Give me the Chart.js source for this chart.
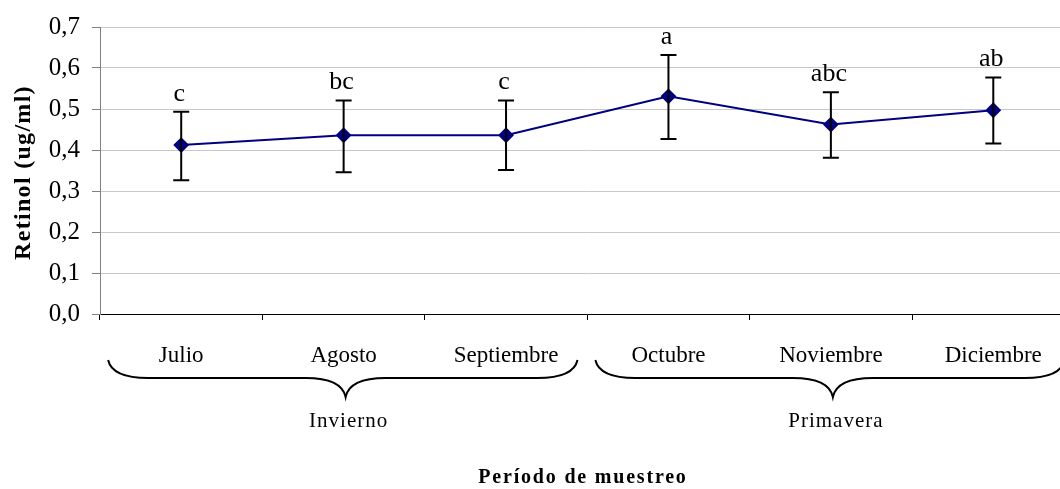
<!DOCTYPE html>
<html>
<head>
<meta charset="utf-8">
<script src="https://cdn.jsdelivr.net/npm/chart.js@4"></script>
<style>
html,body{margin:0;padding:0;background:#fff;overflow:hidden;width:1060px;height:489px;}
canvas{display:block;}
</style>
</head>
<body>
<canvas id="c" width="1083" height="489" style="width:1083px;height:489px"></canvas>
<script>
const months = ['Julio','Agosto','Septiembre','Octubre','Noviembre','Diciembre'];
const retinolMean = [0.412, 0.436, 0.436, 0.531, 0.462, 0.497];
const errLow  = [0.326, 0.346, 0.351, 0.427, 0.381, 0.416];
const errHigh = [0.493, 0.521, 0.521, 0.632, 0.541, 0.577];
const sigLetters = ['c','bc','c','a','abc','ab'];
const yTickLabels = ['0,0','0,1','0,2','0,3','0,4','0,5','0,6','0,7'];
const seasons = ['Invierno','Primavera'];
const seasonStart = [0, 3];
const seasonEnd = [2, 5];
const yTitle = 'Retinol (ug/ml)';
const xTitle = 'Período de muestreo';

const SERIF = '"Liberation Serif", "Times New Roman", serif';

const extras = {
  id: 'extras',
  afterDatasetsDraw(chart) {
    const ctx = chart.ctx;
    const xs = chart.scales.x, ys = chart.scales.y;
    ctx.save();
    ctx.strokeStyle = '#000';
    ctx.lineWidth = 2;
    for (let i = 0; i < months.length; i++) {
      const x = xs.getPixelForValue(i);
      const yt = ys.getPixelForValue(errHigh[i]);
      const yb = ys.getPixelForValue(errLow[i]);
      ctx.beginPath();
      ctx.moveTo(x, yt); ctx.lineTo(x, yb);
      ctx.moveTo(x - 8, yt); ctx.lineTo(x + 8, yt);
      ctx.moveTo(x - 8, yb); ctx.lineTo(x + 8, yb);
      ctx.stroke();
    }
    ctx.fillStyle = '#000';
    ctx.font = '26px ' + SERIF;
    ctx.textAlign = 'center';
    ctx.textBaseline = 'alphabetic';
    for (let i = 0; i < months.length; i++) {
      const x = xs.getPixelForValue(i);
      const yt = ys.getPixelForValue(errHigh[i]);
      ctx.fillText(sigLetters[i], x - 2, yt - 11);
    }
    ctx.restore();
  },
  afterDraw(chart) {
    const ctx = chart.ctx;
    const xs = chart.scales.x, ys = chart.scales.y;
    const w = xs.getPixelForValue(1) - xs.getPixelForValue(0);
    ctx.save();
    ctx.strokeStyle = '#000';
    ctx.lineWidth = 2;
    ctx.fillStyle = '#000';
    const yTop = 360, yFlat = 378, yTip = 397;
    for (let s = 0; s < seasons.length; s++) {
      const x1 = xs.getPixelForValue(seasonStart[s]) - 0.45 * w;
      const x2 = xs.getPixelForValue(seasonEnd[s]) + 0.44 * w;
      const xm = (xs.getPixelForValue(seasonStart[s]) + xs.getPixelForValue(seasonEnd[s])) / 2 + 2;
      ctx.beginPath();
      ctx.moveTo(x1, yTop);
      ctx.quadraticCurveTo(x1 + 4, yFlat, x1 + 40, yFlat);
      ctx.lineTo(xm - 40, yFlat);
      ctx.quadraticCurveTo(xm - 4, yFlat, xm, yTip);
      ctx.quadraticCurveTo(xm + 4, yFlat, xm + 40, yFlat);
      ctx.lineTo(x2 - 40, yFlat);
      ctx.quadraticCurveTo(x2 - 4, yFlat, x2, yTop);
      ctx.stroke();
      ctx.font = '21px ' + SERIF;
      ctx.letterSpacing = '1px';
      ctx.textAlign = 'center';
      ctx.textBaseline = 'middle';
      ctx.fillText(seasons[s], xm + 3, 421);
    }
    ctx.font = 'bold 20px ' + SERIF;
    ctx.letterSpacing = '1.8px';
    ctx.textAlign = 'center';
    ctx.textBaseline = 'middle';
    ctx.fillText(xTitle, 583, 478);
    ctx.save();
    ctx.translate(24, (ys.top + ys.bottom) / 2 + 2);
    ctx.rotate(-Math.PI / 2);
    ctx.font = 'bold 24px ' + SERIF;
    ctx.letterSpacing = '1.3px';
    ctx.textAlign = 'center';
    ctx.textBaseline = 'middle';
    ctx.fillText(yTitle, 0, 0);
    ctx.restore();
    ctx.restore();
  }
};

new Chart(document.getElementById('c'), {
  type: 'line',
  data: {
    labels: months,
    datasets: [{
      data: retinolMean,
      borderColor: '#000080',
      backgroundColor: '#000080',
      borderWidth: 2,
      pointStyle: 'rectRot',
      pointRadius: 6.5,
      pointBackgroundColor: '#000080',
      pointBorderColor: '#000080',
      tension: 0,
      fill: false
    }]
  },
  options: {
    responsive: false,
    animation: false,
    events: [],
    layout: { padding: { top: 25, right: 0, left: 0, bottom: 0 } },
    plugins: { legend: { display: false }, tooltip: { enabled: false } },
    scales: {
      x: {
        offset: true,
        afterFit(scale) { scale.height = 175; },
        grid: { offset: true, drawOnChartArea: false, drawTicks: true, tickLength: 6, color: '#000', lineWidth: 1 },
        border: { color: '#000', width: 1 },
        ticks: { color: '#000', font: { family: SERIF, size: 23 }, padding: 22, maxRotation: 0, autoSkip: false }
      },
      y: {
        min: 0, max: 0.7,
        afterFit(scale) { scale.width = 100; },
        grid: { color: '#c8c8c8', lineWidth: 1, tickLength: 8, tickColor: '#808080' },
        border: { color: '#808080', width: 1 },
        ticks: {
          stepSize: 0.1, color: '#000', padding: 12,
          font: { family: SERIF, size: 25 },
          callback: (v, i) => yTickLabels[i]
        },
        title: { display: false }
      }
    }
  },
  plugins: [extras]
});
</script>
</body>
</html>
